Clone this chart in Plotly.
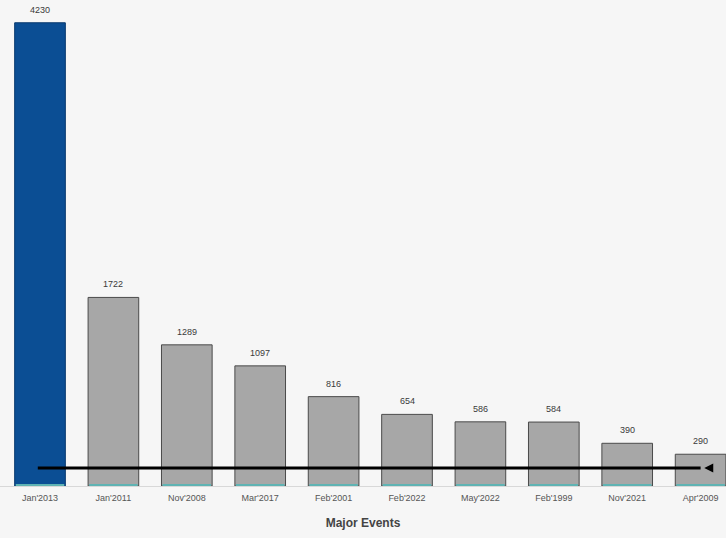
import plotly.graph_objects as go

# Event counts per major event, highest first
events = ["Jan'2013", "Jan'2011", "Nov'2008", "Mar'2017", "Feb'2001",
          "Feb'2022", "May'2022", "Feb'1999", "Nov'2021", "Apr'2009"]
counts = [4230, 1722, 1289, 1097, 816, 654, 586, 584, 390, 290]
trend_level = 164

idx = list(range(len(events)))
fills = ["#0b4e94"] + ["#a7a7a7"] * (len(events) - 1)
edges = ["#08396e"] + ["#4a4a4a"] * (len(events) - 1)

fig = go.Figure()
fig.add_trace(go.Bar(
    x=idx, y=counts, width=0.69,
    marker=dict(color=fills, line=dict(color=edges, width=1)),
    showlegend=False,
))
# thin teal strip along the base of each bar
fig.add_trace(go.Bar(
    x=idx, y=[14] * len(events), width=0.66,
    marker=dict(color="#5fb3b3", line=dict(width=0)),
    hoverinfo="skip", showlegend=False,
))

# value labels above each bar
for i, c in zip(idx, counts):
    fig.add_annotation(x=i, y=c, text=str(c), showarrow=False, yanchor="bottom",
                       yshift=6, font=dict(size=9, color="#3a3a3a"))

fig.add_shape(type="line", xref="x", yref="y", x0=-0.03, x1=9.0,
              y0=trend_level, y1=trend_level, line=dict(color="#000000", width=3))
fig.add_annotation(x=9.05, y=trend_level, ax=9.14, ay=trend_level, axref="x", ayref="y",
                   xref="x", yref="y", text="", showarrow=True, arrowhead=2,
                   arrowsize=0.9, arrowwidth=2, arrowcolor="#000000")

fig.update_layout(
    width=726, height=538,
    margin=dict(l=0, r=0, t=0, b=52),
    paper_bgcolor="#f6f6f6", plot_bgcolor="#f6f6f6",
    barmode="overlay",
    font=dict(family="Liberation Sans, Arial, sans-serif"),
    xaxis=dict(
        range=[-0.545, 9.346], tickmode="array", tickvals=idx, ticktext=events,
        tickfont=dict(size=9, color="#555555"), showgrid=False, zeroline=False,
        showline=True, linecolor="#d8d8d8", linewidth=1,
        ticks="outside", ticklen=3, tickcolor="rgba(0,0,0,0)",
        title=dict(text="<b>Major Events</b>", font=dict(size=12, color="#444444"), standoff=16),
    ),
    yaxis=dict(range=[0, 4438], visible=False, showgrid=False, zeroline=False),
)

fig.write_html("out.html")
